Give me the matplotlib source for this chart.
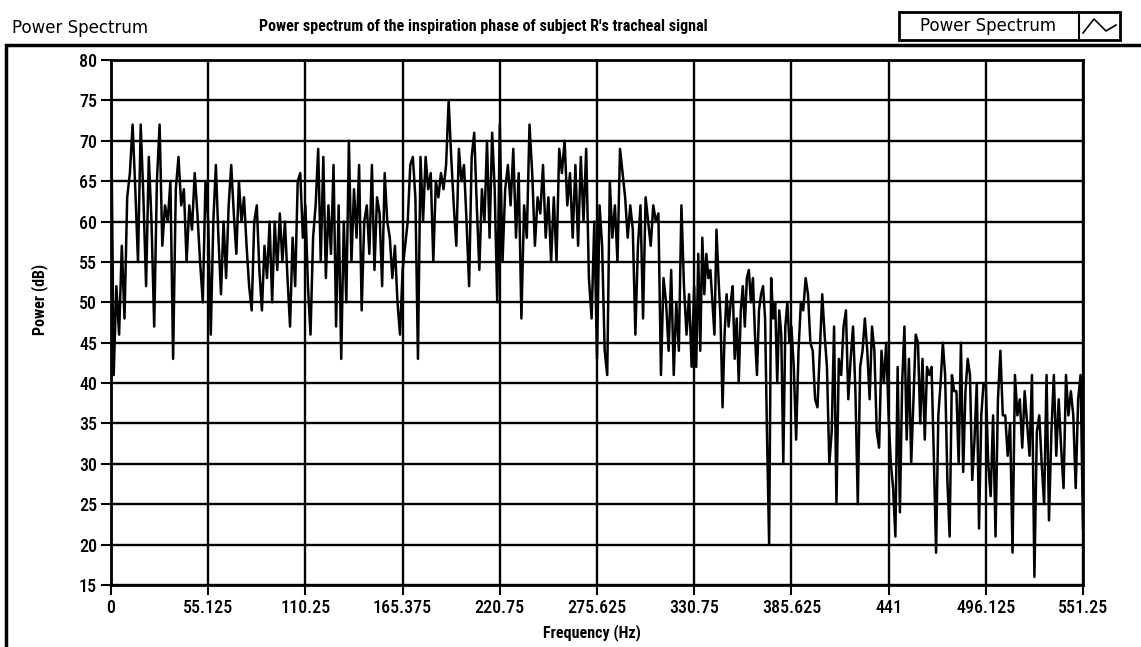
import numpy as np
import matplotlib
matplotlib.use("Agg")
import matplotlib.pyplot as plt
from matplotlib import font_manager as fm
from matplotlib.patches import Rectangle
from matplotlib.lines import Line2D

# power (dB), one list per 55.125 Hz grid cell
band_width = 55.125
power_0 = [76, 41, 52, 46, 57, 48, 63, 66, 72, 64, 55, 72, 63, 52, 68, 60, 47, 65,
           72, 57, 62, 60, 65, 43, 64, 68, 62, 64, 55, 62, 59, 66, 61, 55, 50, 65]
power_1 = [60, 46, 60, 67, 58, 51, 60, 53, 62, 67, 61, 56, 65, 60, 63, 57, 52, 49,
           60, 62, 54, 49, 57, 53, 60, 50, 60, 54, 61, 55, 60, 53, 47, 58, 52, 65,
           66, 58]
power_2 = [62, 52, 46, 58, 62, 69, 55, 68, 53, 62, 56, 67, 47, 62, 43, 60, 50, 70,
           55, 64, 58, 67, 49, 60, 62, 56, 67, 54, 63, 61, 52, 66, 60, 58, 53, 57,
           50, 46]
power_3 = [54, 57, 60, 67, 68, 63, 43, 68, 60, 68, 64, 66, 55, 65, 63, 66, 64, 67,
           75, 68, 62, 57, 69, 65, 67, 60, 52, 68, 71, 62, 54, 64, 60, 70, 58, 71,
           64, 50]
power_4 = [72, 55, 64, 67, 62, 69, 58, 66, 48, 62, 58, 72, 66, 57, 63, 61, 67, 58,
           63, 55, 63, 55, 69, 66, 70, 62, 66, 58, 67, 57, 68, 60, 69, 53, 48, 60]
power_5 = [43, 62, 57, 44, 41, 65, 58, 62, 55, 69, 66, 63, 58, 62, 59, 46, 57, 62,
           48, 63, 60, 57, 62, 60, 61, 41, 53, 50, 44, 54, 41, 50, 44, 62, 52, 46,
           51, 42]
power_6 = [52, 42, 56, 44, 58, 51, 56, 53, 54, 50, 46, 59, 53, 48, 37, 46, 51, 47,
           50, 52, 43, 48, 40, 49, 52, 47, 53, 54, 50, 53, 46, 41, 49, 51, 52, 48,
           33, 20, 53, 48, 50, 40, 49, 46, 30, 47, 50, 45]
power_7 = [47, 42, 33, 44, 50, 49, 53, 51, 45, 44, 38, 37, 44, 51, 46, 42, 30, 34,
           47, 25, 43, 41, 47, 49, 38, 43, 47, 39, 25, 42, 44, 48, 44, 38, 47, 44,
           34, 32, 44, 40, 45]
power_8 = [36, 30, 27, 21, 42, 24, 40, 47, 33, 43, 30, 38, 46, 45, 35, 43, 33, 42,
           41, 42, 31, 19, 36, 40, 45, 41, 28, 21, 41, 39, 39, 30, 45, 29, 39, 43,
           41, 28, 33, 40, 22, 36, 40]
power_9 = [40, 30, 26, 36, 21, 38, 44, 36, 36, 31, 35, 19, 41, 36, 38, 32, 39, 35,
           31, 41, 16, 34, 36, 30, 25, 41, 23, 34, 41, 31, 38, 32, 27, 41, 36, 39,
           36, 27, 38, 41, 22]

bands = [power_0, power_1, power_2, power_3, power_4,
         power_5, power_6, power_7, power_8, power_9]

tick_labels = ["0", "55.125", "110.25", "165.375", "220.75", "275.625",
               "330.75", "385.625", "441", "496.125", "551.25"]

freq = []
power = []
for i, band in enumerate(bands):
    last = i == len(bands) - 1
    f = np.linspace(i * band_width, (i + 1) * band_width, len(band),
                    endpoint=last)
    freq.extend(f)
    power.extend(band)


def narrow_font(size, weight="bold"):
    """Pick a condensed face if one is installed, else a smaller DejaVu."""
    names = {f.name for f in fm.fontManager.ttflist}
    for n in ["Roboto Condensed", "Liberation Sans Narrow", "Open Sans Condensed"]:
        if n in names:
            return fm.FontProperties(family=n, weight=weight, size=size)
    for f in fm.fontManager.ttflist:
        if f.name == "DejaVu Sans" and f.stretch == "condensed":
            return fm.FontProperties(family="DejaVu Sans", stretch="condensed",
                                     weight=weight, size=size)
    return fm.FontProperties(family="DejaVu Sans", weight=weight,
                             size=size * 0.8)


fig = plt.figure(figsize=(11.41, 6.47), dpi=100)
ax = fig.add_axes([111 / 1141, 1 - 585 / 647, 972 / 1141, 525 / 647])

ax.plot(freq, power, color="black", lw=1.8)
ax.set_xlim(0, 10 * band_width)
ax.set_ylim(15, 80)
ax.set_xticks([i * band_width for i in range(11)])
ax.set_xticklabels(tick_labels)
ax.set_yticks(range(15, 81, 5))
ax.grid(True, color="black", lw=1.7)
for s in ax.spines.values():
    s.set_linewidth(2)
ax.tick_params(axis="both", direction="out", length=7, width=1.5, pad=3)
tick_font = narrow_font(13, weight="medium")
for lab in ax.get_xticklabels() + ax.get_yticklabels():
    lab.set_fontproperties(tick_font)

label_font = narrow_font(11.5)
fig.text(40 / 1141, 1 - 299 / 647, "Power (dB)", rotation=90, ha="center",
         va="center", fontproperties=label_font)
fig.text(592 / 1141, 1 - 633 / 647, "Frequency (Hz)", ha="center",
         va="center", fontproperties=label_font)

# header texts
fig.text(12 / 1141, 1 - 28 / 647, "Power Spectrum", ha="left", va="center",
         fontsize=12)
fig.text(483 / 1141, 1 - 26 / 647,
         "Power spectrum of the inspiration phase of subject R's tracheal signal",
         ha="center", va="center", fontproperties=narrow_font(11.5))

# outer frame
fig.add_artist(Rectangle((6 / 1141, -0.05), 1.2, 1 - 45 / 647 + 0.05,
                         transform=fig.transFigure, fill=False, lw=2.5,
                         color="black"))

# legend box
fig.add_artist(Rectangle((899 / 1141, 1 - 40 / 647), 221 / 1141, 28 / 647,
                         transform=fig.transFigure, fill=False, lw=2,
                         color="black"))
fig.add_artist(Line2D([1079 / 1141, 1079 / 1141], [1 - 40 / 647, 1 - 12 / 647],
                      transform=fig.transFigure, color="black", lw=1.5))
fig.text(988 / 1141, 1 - 26 / 647, "Power Spectrum", ha="center", va="center",
         fontsize=12)
fig.add_artist(Line2D(np.array([1083, 1094, 1106, 1116]) / 1141,
                      1 - np.array([33, 19, 31, 25]) / 647,
                      transform=fig.transFigure, color="black", lw=1.2))

fig.savefig("out.png", dpi=100, facecolor="white")
